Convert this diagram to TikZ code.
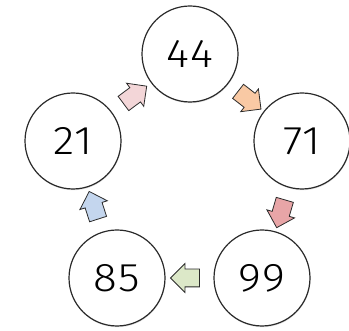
\documentclass[tikz,border=0pt]{standalone}
\usepackage{fontspec}
\newfontfamily\numfont[FakeStretch=1.1,LetterSpace=3]{Fira Sans Light}
\usetikzlibrary{shapes.arrows,shadows}
\definecolor{apink}{HTML}{F3D6D8}
\definecolor{aorange}{HTML}{F9C9A4}
\definecolor{ared}{HTML}{E8A5A7}
\definecolor{agreen}{HTML}{DCE8C8}
\definecolor{ablue}{HTML}{C4D6EE}
\definecolor{edge}{HTML}{2A2A2A}
\begin{document}
\begin{tikzpicture}[x=1pt,y=-1pt,
  numcircle/.style={circle,draw=edge,line width=1.2pt,fill=white,minimum size=96pt,inner sep=0pt,
    font=\numfont\fontsize{40}{40}\selectfont,
    drop shadow={opacity=0.25,shadow xshift=0.4pt,shadow yshift=-1.2pt}},
  blockarrow/.style={single arrow,draw=edge,line width=0.8pt,fill=#1,
    minimum height=29pt,single arrow head extend=5.5pt,inner xsep=0pt,inner ysep=8.5pt,
    sloped,allow upside down}]
\useasboundingbox (0,0) rectangle (349,331);
\node[numcircle] (n44) at (190,54) {44};
\node[numcircle] (n71) at (302,141) {71};
\node[numcircle] (n99) at (262,278) {99};
\node[numcircle] (n85) at (117,278) {85};
\node[numcircle] (n21) at (73,141) {21};
\path (n21) -- node[blockarrow=apink] (a1) {} (n44);
\path (n44) -- node[blockarrow=aorange] (a2) {} (n71);
\path (n71) -- node[blockarrow=ared] (a3) {} (n99);
\path (n99) -- node[blockarrow=agreen] (a4) {} (n85);
\path (n85) -- node[blockarrow=ablue] (a5) {} (n21);
\end{tikzpicture}
\end{document}
